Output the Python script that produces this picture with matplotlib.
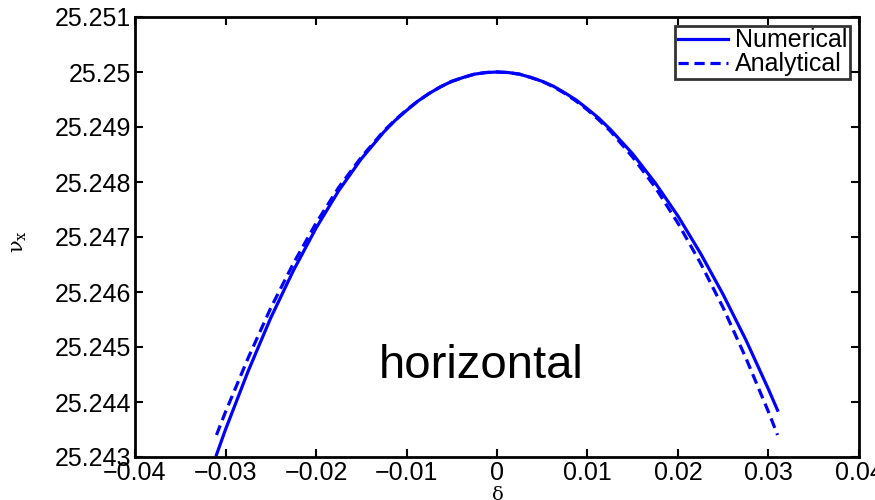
import numpy as np
import matplotlib
matplotlib.use("Agg")
import matplotlib.pyplot as plt
from matplotlib.ticker import FuncFormatter, MultipleLocator

# tune shift vs momentum deviation
delta = [-0.031, -0.03, -0.0275, -0.025, -0.0225, -0.02, -0.0175, -0.015,
         -0.0125, -0.01125, -0.01, -0.00875, -0.0075, -0.00625, -0.005,
         -0.00375, -0.0025, -0.00125, 0.0, 0.00125, 0.0025, 0.00375, 0.005,
         0.00625, 0.0075, 0.00875, 0.01, 0.01125, 0.0125, 0.015, 0.0175,
         0.02, 0.0225, 0.025, 0.0275, 0.03, 0.031]
nu_numerical = [25.24304, 25.24350, 25.24456, 25.24553, 25.24639, 25.24716,
                25.24784, 25.24842, 25.24891, 25.24912, 25.24930, 25.24947,
                25.24961, 25.24973, 25.24983, 25.24990, 25.24996, 25.24999,
                25.25000, 25.24999, 25.24996, 25.24990, 25.24983, 25.24974,
                25.24962, 25.24949, 25.24933, 25.24916, 25.24896, 25.24851,
                25.24798, 25.24738, 25.24670, 25.24595, 25.24513, 25.24423,
                25.24385]
nu_analytical = [25.24340, 25.24382, 25.24480, 25.24571, 25.24652, 25.24725,
                 25.24790, 25.24845, 25.24893, 25.24913, 25.24931, 25.24947,
                 25.24961, 25.24973, 25.24983, 25.24990, 25.24996, 25.24999,
                 25.25000, 25.24999, 25.24996, 25.24990, 25.24983, 25.24973,
                 25.24961, 25.24947, 25.24931, 25.24913, 25.24893, 25.24845,
                 25.24790, 25.24725, 25.24652, 25.24571, 25.24480, 25.24382,
                 25.24340]

plt.rcParams['font.family'] = ['Liberation Sans', 'DejaVu Sans']
plt.rcParams['mathtext.fontset'] = 'dejavuserif'

fig = plt.figure(figsize=(8.75, 5), dpi=100)
ax = fig.add_axes([0.1543, 0.086, 0.8274, 0.880])

ax.plot(delta, nu_numerical, color='blue', linewidth=2.3, label='Numerical',
        solid_joinstyle='round')
ax.plot(delta, nu_analytical, color='blue', linewidth=2.3, linestyle=(0, (3.2, 1.8)),
        label='Analytical')

ax.set_xlim(-0.04, 0.04)
ax.set_ylim(25.243, 25.251)
ax.xaxis.set_major_locator(MultipleLocator(0.01))
ax.yaxis.set_major_locator(MultipleLocator(0.001))


def fmt(v, pos):
    s = '%g' % round(v, 6)
    return s.replace('-', '\u2212')


ax.xaxis.set_major_formatter(FuncFormatter(fmt))
ax.yaxis.set_major_formatter(FuncFormatter(fmt))
ax.tick_params(direction='in', length=6, width=1.5, labelsize=18,
               top=True, right=True, pad=3)
for sp in ax.spines.values():
    sp.set_linewidth(2)

ax.set_xlabel(r'$\mathrm{\delta}$', fontsize=14)
ax.xaxis.set_label_coords(0.5, -0.065)
ax.set_ylabel(r'$\mathrm{\nu}_\mathrm{x}$', fontsize=15)
ax.yaxis.set_label_coords(-0.147, 0.49)

ax.text(-0.0018, 25.24444, 'horizontal', fontsize=34, ha='center', va='baseline')

leg = ax.legend(loc='upper right', fontsize=18, frameon=True, fancybox=False,
                handlelength=2.0, handletextpad=0.3, borderpad=0.1,
                labelspacing=0.0, borderaxespad=0.35)
leg.get_frame().set_edgecolor('black')
leg.get_frame().set_linewidth(2)

fig.savefig('out.png', dpi=100)
